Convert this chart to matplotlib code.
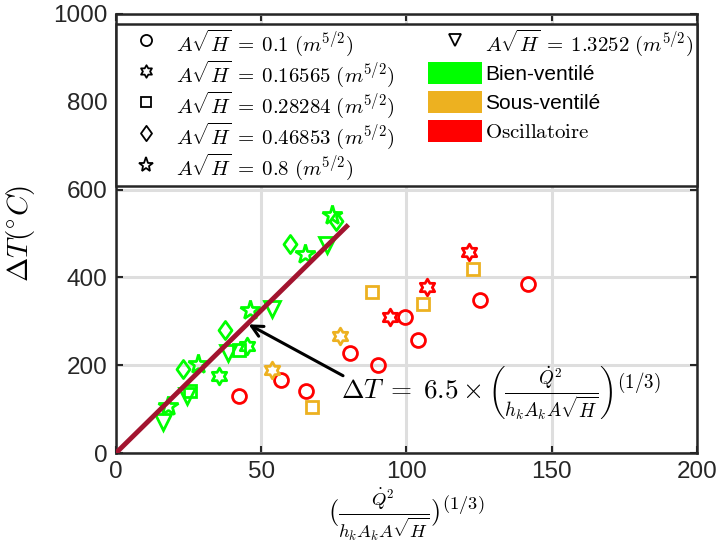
import matplotlib
matplotlib.use("Agg")
import matplotlib.pyplot as plt
from matplotlib.path import Path
from matplotlib.lines import Line2D
from matplotlib.patches import Patch, Rectangle
from matplotlib.legend_handler import HandlerPatch
import numpy as np

plt.rcParams['mathtext.fontset'] = 'cm'
plt.rcParams['font.family'] = ['Liberation Sans', 'DejaVu Sans']

# ---- data ----
circ_red_x = [42.4, 56.8, 65.4, 80.6, 90.2, 99.5, 103.8, 125.3, 141.7]
circ_red_y = [130, 166, 141, 228, 200, 309, 257, 348, 385]
hex_red_x = [94.3, 107.0, 121.6]
hex_red_y = [309, 377, 457]
hex_orange_x = [53.6, 77.1]
hex_orange_y = [189, 266]
hex_green_x = [35.5, 45.0]
hex_green_y = [175, 244]
sq_orange_x = [67.6, 88.2, 105.7, 122.8]
sq_orange_y = [104, 366, 339, 419]
sq_green_x = [25.5, 42.3]
sq_green_y = [142, 235]
dia_green_x = [23.0, 37.5, 59.9, 75.9]
dia_green_y = [191, 280, 477, 528]
pent_green_x = [18.0, 28.3, 46.1, 65.1, 74.2]
pent_green_y = [108, 202, 325, 454, 543]
tri_green_x = [16.3, 24.3, 38.7, 53.6, 72.5]
tri_green_y = [70, 129, 228, 329, 473]
fit_x = [0, 80]
fit_y = [0, 520]

legend_labels = [r'$A\sqrt{H}\:=\:0.1\ (m^{5/2})$',
                 r'$A\sqrt{H}\:=\:0.16565\ (m^{5/2})$',
                 r'$A\sqrt{H}\:=\:0.28284\ (m^{5/2})$',
                 r'$A\sqrt{H}\:=\:0.46853\ (m^{5/2})$',
                 r'$A\sqrt{H}\:=\:0.8\ (m^{5/2})$',
                 r'$A\sqrt{H}\:=\:1.3252\ (m^{5/2})$']
regime_labels = ['Bien-ventilé', 'Sous-ventilé', r'$\mathrm{Oscillatoire}$']

GREEN = '#00FF00'
ORANGE = '#EDB120'
RED = '#FF0000'
FITC = '#A2142F'

hexagram = Path.unit_regular_star(6, 0.577)
diamond = Path([(0, 1), (0.72, 0), (0, -1), (-0.72, 0), (0, 1)],
               [Path.MOVETO, Path.LINETO, Path.LINETO, Path.LINETO, Path.CLOSEPOLY])

fig = plt.figure(figsize=(7.23, 5.42), dpi=100)
ax = fig.add_axes([0.1604, 0.1642, 0.8036, 0.81])

mew = 2.0
def pts(x, y, m, c, ms):
    ax.plot(x, y, linestyle='none', marker=m, markersize=ms, markerfacecolor='none',
            markeredgecolor=c, markeredgewidth=mew, zorder=3)

pts(circ_red_x, circ_red_y, 'o', RED, 10)
pts(hex_red_x, hex_red_y, hexagram, RED, 12)
pts(hex_orange_x, hex_orange_y, hexagram, ORANGE, 12)
pts(hex_green_x, hex_green_y, hexagram, GREEN, 12)
pts(sq_orange_x, sq_orange_y, 's', ORANGE, 8)
pts(sq_green_x, sq_green_y, 's', GREEN, 8)
pts(dia_green_x, dia_green_y, diamond, GREEN, 13)
pts(pent_green_x, pent_green_y, '*', GREEN, 15)
pts(tri_green_x, tri_green_y, 'v', GREEN, 12)

ax.plot(fit_x, fit_y, color=FITC, linewidth=3.5, zorder=4, solid_capstyle='butt')

ax.annotate('', xy=(44.8, 296), xytext=(79.0, 173),
            arrowprops=dict(arrowstyle='->', color='black', lw=2.2,
                            mutation_scale=20), zorder=5)
ax.text(77.6, 136,
        r'$\Delta T\;=\;6.5\times\left(\frac{\dot{Q}^2}{h_k A_k A\sqrt{H}}\right)^{(1/3)}$',
        fontsize=19.5, ha='left', va='center', zorder=5)

ax.set_xlim(0, 200)
ax.set_ylim(0, 1000)
ax.set_xticks([0, 50, 100, 150, 200])
ax.set_yticks([0, 200, 400, 600, 800, 1000])
ax.tick_params(direction='in', length=5, width=1.5, labelsize=17.5, colors='#262626',
               top=True, right=True, pad=6)
for s in ax.spines.values():
    s.set_color('#262626')
    s.set_linewidth(1.8)
ax.grid(True, color='#dedede', linewidth=2.2)
ax.set_axisbelow(True)

ax.set_xlabel(r'$(\frac{\dot{Q}^2}{h_k A_k A\sqrt{H}})^{(1/3)}$', fontsize=19, labelpad=2)
ax.set_ylabel(r'$\Delta T(^{\circ}C)$', fontsize=21, labelpad=12)


def small_rect(legend, orig_handle, xdescent, ydescent, width, height, fontsize):
    rh = 1.05 * fontsize
    return Rectangle((-xdescent, -ydescent + (height - rh) / 2.0), width, rh)


shapes = ['o', hexagram, 's', diamond, '*', 'v']
lms = [8, 9, 7, 11, 11, 9]
handles = [Line2D([], [], linestyle='none', marker=m, markersize=s, markerfacecolor='none',
                  markeredgecolor='black', markeredgewidth=1.3) for m, s in zip(shapes, lms)]
patches = [Patch(facecolor=GREEN, edgecolor='none'),
           Patch(facecolor=ORANGE, edgecolor='none'),
           Patch(facecolor=RED, edgecolor='none')]
handles += patches
labels = legend_labels + regime_labels

leg = ax.legend(handles, labels, ncols=2, loc='upper left',
                bbox_to_anchor=(0.0, 0.977, 1.0, 0.0), mode='expand',
                fontsize=15, frameon=True, fancybox=False, framealpha=1,
                edgecolor='#262626', handlelength=2.6, handleheight=1.78,
                handletextpad=0.15, labelspacing=0.0, borderpad=0.15,
                columnspacing=0.5, borderaxespad=0,
                handler_map={Patch: HandlerPatch(patch_func=small_rect)})
leg.get_frame().set_linewidth(1.8)
leg.set_zorder(10)

fig.savefig('out.png', dpi=100)
